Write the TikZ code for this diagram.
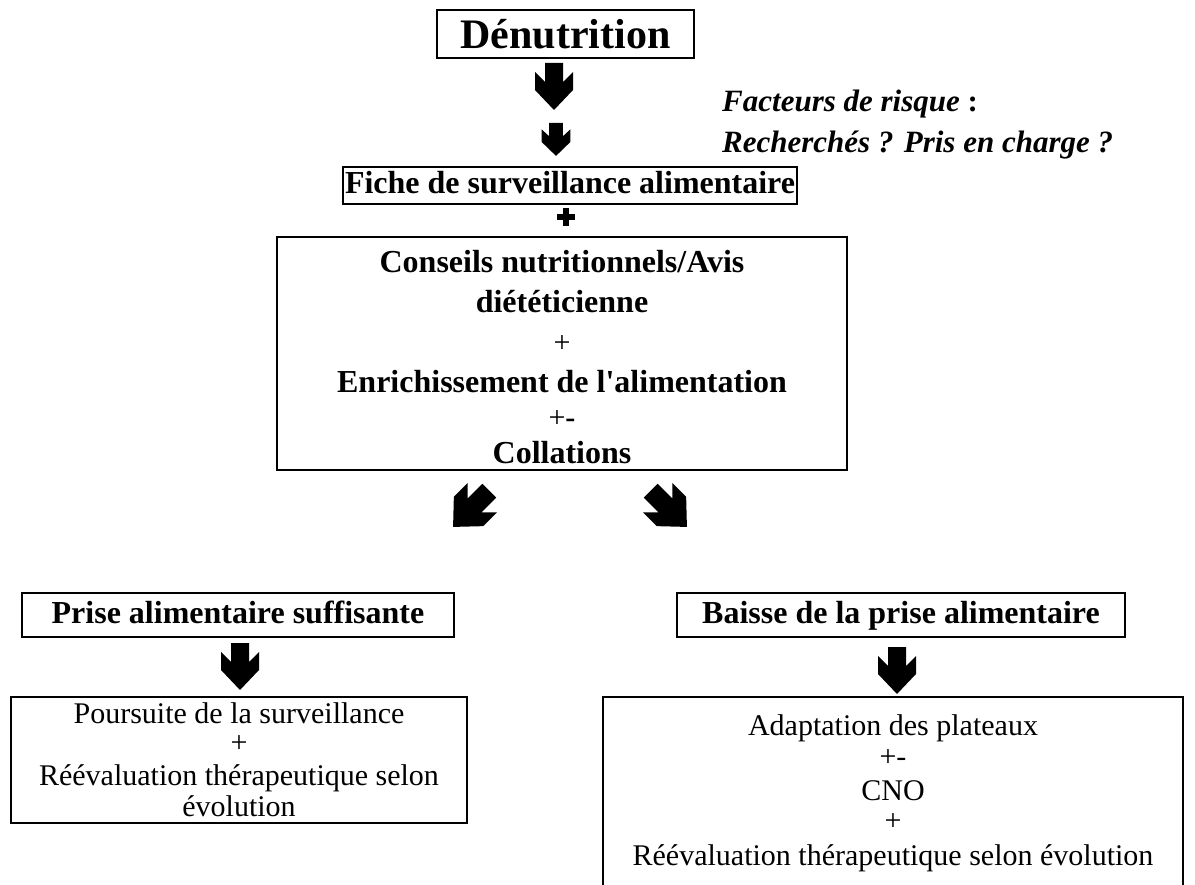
\documentclass[tikz,border=0pt]{standalone}
\usepackage{fontspec}
\setmainfont{Liberation Serif}
\begin{document}
\begin{tikzpicture}[x=1pt,y=-1pt,
  box/.style={draw,line width=2pt,inner sep=0pt},
  tbox/.style={box,text height=23pt,text depth=7pt},
  bfont/.style={font=\fontsize{32}{38}\selectfont\bfseries},
  rfont/.style={font=\fontsize{30}{33}\selectfont},
  ifont/.style={font=\fontsize{31}{34}\selectfont\bfseries\itshape},
  line/.style={anchor=base,inner sep=0pt},
  blockarrow/.pic={\fill (-9,0) -- (9,0) -- (9,19) -- (19,9) -- (19,27) -- (0,47) -- (-19,27) -- (-19,9) -- (-9,19) -- cycle;}
]
\useasboundingbox (0,0) rectangle (1195,885);

% top
\node[box,minimum width=257pt,minimum height=48pt,text height=29pt,text depth=0pt,font=\fontsize{42}{48}\selectfont\bfseries] (den) at (565.5,34) {Dénutrition};
\pic at (554,63) {blockarrow};
\pic[xscale=0.76,yscale=0.7] at (556,123) {blockarrow};

\node[ifont,anchor=base west,inner sep=0pt] (fact) at (722,112) {Facteurs de risque \textup{:}};
\node[ifont,anchor=base west,inner sep=0pt] (rech) at (722,153) {Recherchés ? Pris en charge ?};

\node[tbox,bfont,minimum width=454pt,minimum height=37pt] (fiche) at (570,185.5) {Fiche de surveillance alimentaire};
\fill (557,214) rectangle (575,220);
\fill (563,208) rectangle (569,226);

% middle box
\node[box,minimum width=570pt,minimum height=233pt] (cons) at (562,353.5) {};
\node[line,bfont] (c1) at (562,273) {Conseils nutritionnels/Avis};
\node[line,bfont] (c2) at (562,313) {diététicienne};
\node[line,rfont] (c3) at (562,353) {+};
\node[line,bfont] (c4) at (562,392) {Enrichissement de l\textquotesingle alimentation};
\node[line,rfont] (c5) at (562,428) {+\textbf{-}};
\node[line,bfont] (c6) at (562,463) {Collations};

\pic[rotate=-45,scale=1.09] at (489.3,490.7) {blockarrow};
\pic[rotate=45,scale=1.09] at (650.7,490.7) {blockarrow};

% second level
\node[tbox,bfont,minimum width=432pt,minimum height=44pt] (prise) at (238,615) {Prise alimentaire suffisante};
\node[tbox,bfont,minimum width=448pt,minimum height=44pt] (baisse) at (901,615) {Baisse de la prise alimentaire};
\pic at (240,643) {blockarrow};
\pic at (897,647) {blockarrow};

% bottom left
\node[box,minimum width=456pt,minimum height=126pt] (pours) at (239,760) {};
\node[line,rfont] (p1) at (239,723) {Poursuite de la surveillance};
\node[line,rfont] (p2) at (239,752) {+};
\node[line,rfont] (p3) at (239,785) {Réévaluation thérapeutique selon};
\node[line,rfont] (p4) at (239,816) {évolution};

% bottom right (no bottom border, cut by the page)
\coordinate (rbl) at (603,900);
\coordinate (rtl) at (603,697);
\coordinate (rtr) at (1183,697);
\coordinate (rbr) at (1183,900);
\draw[line width=2pt] (rbl) -- (rtl) -- (rtr) -- (rbr);
\node[line,rfont] (r1) at (893,735) {Adaptation des plateaux};
\node[line,rfont] (r2) at (893,766) {+-};
\node[line,rfont] (r3) at (893,800) {CNO};
\node[line,rfont] (r4) at (893,830) {+};
\node[line,rfont] (r5) at (893,865) {Réévaluation thérapeutique selon évolution};
\end{tikzpicture}
\end{document}
